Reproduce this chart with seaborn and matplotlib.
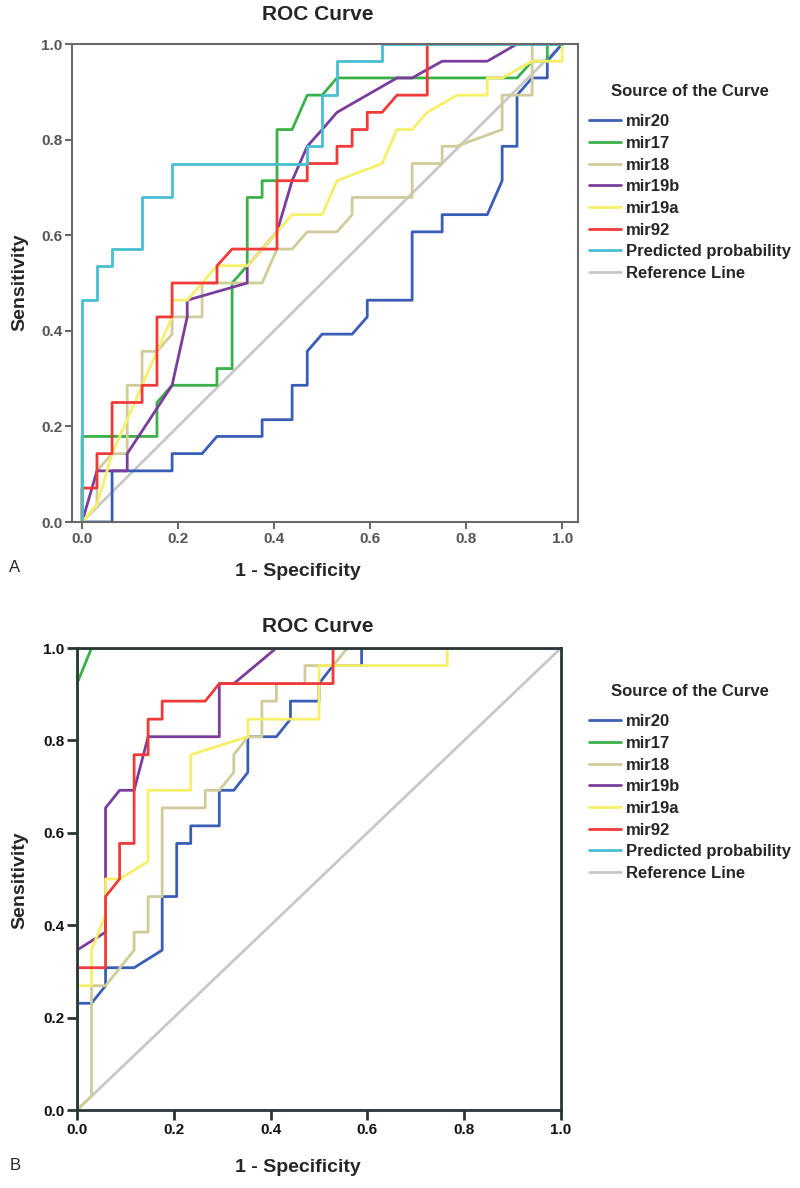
import numpy as np
import pandas as pd
import seaborn as sns
import matplotlib.pyplot as plt
from matplotlib.lines import Line2D

# legend entries and colours (SPSS default palette)
curve_names = ['mir20', 'mir17', 'mir18', 'mir19b', 'mir19a', 'mir92',
               'Predicted probability', 'Reference Line']
curve_colors = ['#3a5db5', '#3bb04a', '#cfcc9a', '#7a3d9c', '#f5ef6a',
                '#f03a3a', '#48bfd2', '#c8c8c8']

# ---- panel A: (1 - specificity, sensitivity) points ----
a_mir20_x = [0, 0.0625, 0.0625, 0.1875, 0.1875, 0.25, 0.281, 0.375, 0.375, 0.4375, 0.4375, 0.469, 0.469, 0.5,
             0.5625, 0.594, 0.594, 0.6875, 0.6875, 0.75, 0.75, 0.844, 0.875, 0.875, 0.906, 0.906, 0.9375, 0.969,
             0.969, 1.0]
a_mir20_y = [0, 0, 0.107, 0.107, 0.143, 0.143, 0.179, 0.179, 0.214, 0.214, 0.286, 0.286, 0.357, 0.393,
             0.393, 0.429, 0.464, 0.464, 0.607, 0.607, 0.643, 0.643, 0.714, 0.786, 0.786, 0.893, 0.929, 0.929,
             0.964, 1.0]
a_mir17_x = [0, 0, 0.156, 0.156, 0.1875, 0.281, 0.281, 0.3125, 0.3125, 0.344, 0.344, 0.375, 0.375, 0.406,
             0.406, 0.4375, 0.469, 0.5, 0.531, 0.906, 0.9375, 0.969, 0.969, 1.0]
a_mir17_y = [0, 0.179, 0.179, 0.25, 0.286, 0.286, 0.321, 0.321, 0.5, 0.536, 0.679, 0.679, 0.714, 0.714,
             0.821, 0.821, 0.893, 0.893, 0.929, 0.929, 0.964, 0.964, 1.0, 1.0]
a_mir18_x = [0, 0.031, 0.031, 0.0625, 0.094, 0.094, 0.125, 0.125, 0.156, 0.1875, 0.1875, 0.25, 0.25, 0.375,
             0.406, 0.4375, 0.469, 0.531, 0.5625, 0.5625, 0.6875, 0.6875, 0.75, 0.75, 0.78, 0.875, 0.875,
             0.9375, 0.9375, 1.0]
a_mir18_y = [0, 0.036, 0.107, 0.143, 0.143, 0.286, 0.286, 0.357, 0.357, 0.393, 0.429, 0.429, 0.5, 0.5,
             0.571, 0.571, 0.607, 0.607, 0.643, 0.679, 0.679, 0.75, 0.75, 0.786, 0.786, 0.821, 0.893,
             0.893, 1.0, 1.0]
a_mir19b_x = [0, 0.031, 0.094, 0.094, 0.1875, 0.219, 0.219, 0.344, 0.344, 0.375, 0.406, 0.4375, 0.469, 0.5,
              0.531, 0.656, 0.6875, 0.75, 0.844, 0.906, 1.0]
a_mir19b_y = [0, 0.107, 0.107, 0.143, 0.286, 0.429, 0.464, 0.5, 0.536, 0.571, 0.607, 0.714, 0.786, 0.821,
              0.857, 0.929, 0.929, 0.964, 0.964, 1.0, 1.0]
a_mir19a_x = [0, 0.031, 0.0625, 0.094, 0.125, 0.156, 0.1875, 0.1875, 0.219, 0.281, 0.344, 0.375, 0.4375,
              0.5, 0.531, 0.625, 0.656, 0.6875, 0.719, 0.781, 0.844, 0.844, 0.875, 0.9375, 1.0, 1.0]
a_mir19a_y = [0, 0.036, 0.143, 0.214, 0.286, 0.357, 0.429, 0.464, 0.464, 0.536, 0.536, 0.571, 0.643,
              0.643, 0.714, 0.75, 0.821, 0.821, 0.857, 0.893, 0.893, 0.929, 0.929, 0.964, 0.964, 1.0]
a_mir92_x = [0, 0, 0.031, 0.031, 0.0625, 0.0625, 0.125, 0.125, 0.156, 0.156, 0.1875, 0.1875, 0.281, 0.281,
             0.3125, 0.406, 0.406, 0.469, 0.469, 0.531, 0.531, 0.5625, 0.5625, 0.594, 0.594, 0.625, 0.656,
             0.719, 0.719, 1.0]
a_mir92_y = [0, 0.071, 0.071, 0.143, 0.143, 0.25, 0.25, 0.286, 0.286, 0.429, 0.429, 0.5, 0.5, 0.536,
             0.571, 0.571, 0.714, 0.714, 0.75, 0.75, 0.786, 0.786, 0.821, 0.821, 0.857, 0.857, 0.893,
             0.893, 1.0, 1.0]
a_pred_x = [0, 0, 0.031, 0.031, 0.0625, 0.0625, 0.125, 0.125, 0.1875, 0.1875, 0.469, 0.469, 0.5, 0.5,
            0.531, 0.531, 0.625, 0.625, 1.0]
a_pred_y = [0, 0.464, 0.464, 0.536, 0.536, 0.571, 0.571, 0.679, 0.679, 0.75, 0.75, 0.786, 0.786, 0.893,
            0.893, 0.964, 0.964, 1.0, 1.0]

# ---- panel B ----
b_mir20_x = [0, 0, 0.03, 0.059, 0.059, 0.118, 0.176, 0.176, 0.206, 0.206, 0.235, 0.235, 0.294, 0.294,
             0.324, 0.353, 0.353, 0.412, 0.441, 0.441, 0.5, 0.5, 0.529, 0.588, 0.588, 1.0]
b_mir20_y = [0, 0.231, 0.231, 0.269, 0.308, 0.308, 0.346, 0.462, 0.462, 0.577, 0.577, 0.615, 0.615, 0.692,
             0.692, 0.731, 0.808, 0.808, 0.846, 0.885, 0.885, 0.923, 0.962, 0.962, 1.0, 1.0]
b_mir17_x = [0, 0, 0.03, 1.0]
b_mir17_y = [0, 0.923, 1.0, 1.0]
b_mir18_x = [0, 0.03, 0.03, 0.059, 0.118, 0.118, 0.147, 0.147, 0.176, 0.176, 0.265, 0.265, 0.294, 0.324,
             0.324, 0.353, 0.382, 0.382, 0.412, 0.412, 0.471, 0.471, 0.529, 0.559, 1.0]
b_mir18_y = [0, 0.03, 0.269, 0.269, 0.346, 0.385, 0.385, 0.462, 0.462, 0.654, 0.654, 0.692, 0.692, 0.731,
             0.769, 0.808, 0.808, 0.885, 0.885, 0.923, 0.923, 0.962, 0.962, 1.0, 1.0]
b_mir19b_x = [0, 0, 0.059, 0.059, 0.088, 0.118, 0.147, 0.294, 0.294, 0.324, 0.412, 1.0]
b_mir19b_y = [0, 0.346, 0.385, 0.654, 0.692, 0.692, 0.808, 0.808, 0.923, 0.923, 1.0, 1.0]
b_mir19a_x = [0, 0, 0.03, 0.03, 0.059, 0.059, 0.088, 0.147, 0.147, 0.235, 0.235, 0.353, 0.353, 0.5, 0.5,
              0.765, 0.765, 1.0]
b_mir19a_y = [0, 0.269, 0.269, 0.346, 0.423, 0.5, 0.5, 0.538, 0.692, 0.692, 0.769, 0.808, 0.846, 0.846,
              0.962, 0.962, 1.0, 1.0]
b_mir92_x = [0, 0, 0.059, 0.059, 0.088, 0.088, 0.118, 0.118, 0.147, 0.147, 0.176, 0.176, 0.265, 0.294,
             0.529, 0.529, 1.0]
b_mir92_y = [0, 0.308, 0.308, 0.462, 0.5, 0.577, 0.577, 0.769, 0.769, 0.846, 0.846, 0.885, 0.885, 0.923,
             0.923, 1.0, 1.0]
b_pred_x = [0, 0, 1.0]
b_pred_y = [0, 1.0, 1.0]

ref_x = [0, 1.0]
ref_y = [0, 1.0]

tick_vals = [0.0, 0.2, 0.4, 0.6, 0.8, 1.0]
tick_labels = ['0.0', '0.2', '0.4', '0.6', '0.8', '1.0']


def build_frame(xs, ys):
    parts = []
    for name, x, y in zip(curve_names, xs, ys):
        parts.append(pd.DataFrame({'fpr': x, 'tpr': y, 'curve': name}))
    return pd.concat(parts, ignore_index=True)


df_a = build_frame([a_mir20_x, a_mir17_x, a_mir18_x, a_mir19b_x, a_mir19a_x, a_mir92_x, a_pred_x, ref_x],
                   [a_mir20_y, a_mir17_y, a_mir18_y, a_mir19b_y, a_mir19a_y, a_mir92_y, a_pred_y, ref_y])
df_b = build_frame([b_mir20_x, b_mir17_x, b_mir18_x, b_mir19b_x, b_mir19a_x, b_mir92_x, b_pred_x, ref_x],
                   [b_mir20_y, b_mir17_y, b_mir18_y, b_mir19b_y, b_mir19a_y, b_mir92_y, b_pred_y, ref_y])

sns.set_theme(style='white')
plt.rcParams['font.family'] = ['Liberation Sans', 'DejaVu Sans']

W, H = 800, 1188
fig = plt.figure(figsize=(W / 100, H / 100), dpi=100)
palette = dict(zip(curve_names, curve_colors))


def px(x, y):
    return x / W, 1 - y / H


def draw_panel(ax, df, spine_color, tick_color, tick_len, lw_spine):
    # reference line underneath the curves
    draw_order = [curve_names[-1]] + curve_names[:-1]
    sns.lineplot(data=df, x='fpr', y='tpr', hue='curve', hue_order=draw_order, palette=palette,
                 sort=False, estimator=None, linewidth=2.0, legend=False, ax=ax)
    ax.set_xticks(tick_vals)
    ax.set_xticklabels(tick_labels)
    ax.set_yticks(tick_vals)
    ax.set_yticklabels(tick_labels)
    ax.set_xlabel('')
    ax.set_ylabel('')
    ax.tick_params(axis='both', which='major', direction='out', length=tick_len, width=lw_spine,
                   color=spine_color, labelsize=11, labelcolor=tick_color, pad=2,
                   bottom=True, left=True)
    for lab in ax.get_xticklabels() + ax.get_yticklabels():
        lab.set_fontweight('bold')
    for sp in ax.spines.values():
        sp.set_color(spine_color)
        sp.set_linewidth(lw_spine)
        sp.set_zorder(5)


def add_legend(ax, top_y):
    handles = [Line2D([], [], color=c, lw=2.0) for c in curve_colors]
    leg = ax.legend(handles, curve_names, loc='upper center', bbox_to_anchor=px(690, top_y),
                    bbox_transform=fig.transFigure, frameon=False, fontsize=12,
                    title='Source of the Curve', title_fontproperties={'weight': 'bold', 'size': 12},
                    handlelength=1.9, handletextpad=0.3, labelspacing=0.4, alignment='center')
    leg._legend_box.sep = 11
    for t in leg.get_texts():
        t.set_fontweight('bold')


# panel A
ax_a = fig.add_axes([72 / W, 1 - 522 / H, (578 - 72) / W, (522 - 44) / H])
draw_panel(ax_a, df_a, '#6a6a6a', '#555555', 5, 1.5)
ax_a.set_xlim(-0.021, 1.033)
ax_a.set_ylim(0, 1)
add_legend(ax_a, 69)
fig.text(*px(318, 15), 'ROC Curve', ha='center', va='center', fontsize=15, fontweight='bold')
fig.text(*px(20, 282), 'Sensitivity', ha='center', va='center', rotation=90, fontsize=14, fontweight='bold')
fig.text(*px(298, 572), '1 - Specificity', ha='center', va='center', fontsize=14, fontweight='bold')
fig.text(*px(15, 568), 'A', ha='center', va='center', fontsize=12)

# panel B
ax_b = fig.add_axes([77 / W, 1 - 1110 / H, (561 - 77) / W, (1110 - 648) / H])
draw_panel(ax_b, df_b, '#2b3535', '#111111', 7, 2.0)
ax_b.set_xlim(0, 1.0)
ax_b.set_ylim(0, 1)
add_legend(ax_b, 669)
fig.text(*px(318, 627), 'ROC Curve', ha='center', va='center', fontsize=15, fontweight='bold')
fig.text(*px(20, 880), 'Sensitivity', ha='center', va='center', rotation=90, fontsize=14, fontweight='bold')
fig.text(*px(298, 1168), '1 - Specificity', ha='center', va='center', fontsize=14, fontweight='bold')
fig.text(*px(15, 1165), 'B', ha='center', va='center', fontsize=12)

fig.savefig('out.png', dpi=100)
